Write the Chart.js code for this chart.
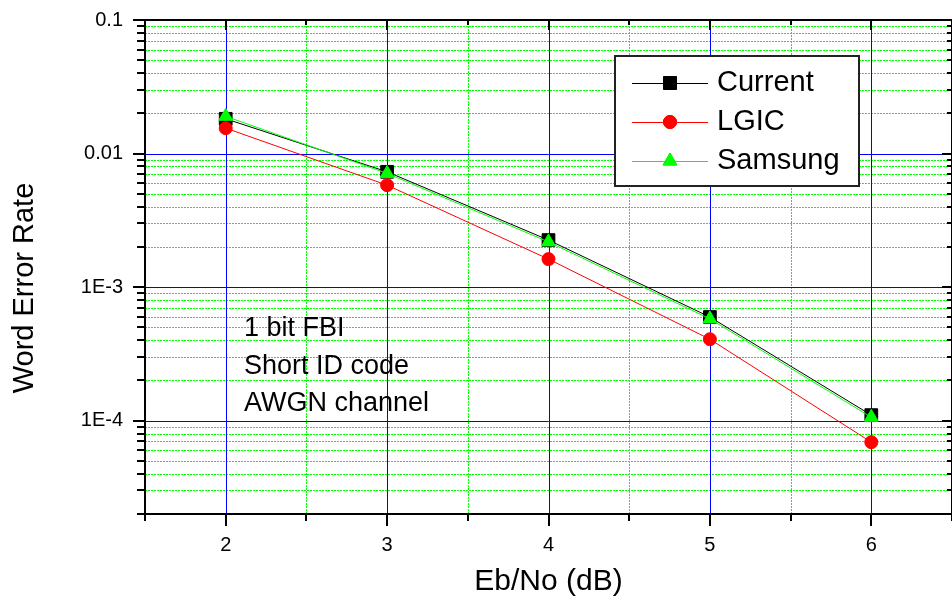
<!DOCTYPE html>
<html>
<head>
<meta charset="utf-8">
<script src="https://cdn.jsdelivr.net/npm/chart.js@4.4.1/dist/chart.umd.min.js"></script>
<style>
  html, body { margin: 0; padding: 0; overflow: hidden; background: #fff; }
  #wrap { width: 952px; height: 606px; overflow: hidden; position: relative; }
  canvas { display: block; }
</style>
</head>
<body>
<div id="wrap"><canvas id="myChart" width="962" height="606"></canvas></div>
<script>
  // Eb/No points (dB)
  const ebNo = [2, 3, 4, 5, 6];

  // word error rate per curve
  const current = [0.0182, 0.0073, 0.00225, 0.000597, 0.000110];
  const lgic = [0.0155, 0.0058, 0.00162, 0.000407, 0.000069];
  const samsung = [0.0190, 0.0071, 0.00218, 0.000578, 0.000106];

  // decade labels on the y axis
  const yTickValues = [0.1, 0.01, 1e-3, 1e-4];
  const yTickLabels = ['0.1', '0.01', '1E-3', '1E-4'];

  const notes = ['1 bit FBI', 'Short ID code', 'AWGN channel'];

  const FONT = "'Liberation Sans', Arial, sans-serif";

  // all minor positions 2e-5 ... 0.1
  const yGrid = [];
  for (let e = -5; e <= -2; e++) {
    for (let m = 1; m <= 9; m++) {
      const v = m * Math.pow(10, e);
      if (v >= 2e-5 - 1e-12) yGrid.push(v);
    }
  }
  yGrid.push(0.1);

  const isDecade = v => yTickValues.some(t => Math.abs(Math.log10(v) - Math.log10(t)) < 1e-9);
  const crisp = v => Math.round(v) + 0.5;

  const pairs = arr => arr.map((v, i) => ({ x: ebNo[i], y: v }));

  const framePlugin = {
    id: 'frame',
    beforeDatasetsDraw(chart) {
      const { ctx, chartArea: a, scales: { x, y } } = chart;
      ctx.save();
      ctx.lineWidth = 1;
      // minor grid, green dotted
      ctx.strokeStyle = '#00ff00';
      ctx.setLineDash([2, 1]);
      ctx.beginPath();
      x.ticks.forEach(t => {
        if (Number.isInteger(t.value) || t.value <= x.min || t.value >= x.max) return;
        const px = crisp(x.getPixelForValue(t.value));
        ctx.moveTo(px, a.top); ctx.lineTo(px, a.bottom);
      });
      y.ticks.forEach(t => {
        if (isDecade(t.value) || t.value <= y.min || t.value >= y.max) return;
        const py = crisp(y.getPixelForValue(t.value));
        ctx.moveTo(a.left, py); ctx.lineTo(a.right, py);
      });
      ctx.stroke();
      // major grid, blue solid
      ctx.setLineDash([]);
      ctx.strokeStyle = '#0000ff';
      ctx.beginPath();
      x.ticks.forEach(t => {
        if (!Number.isInteger(t.value) || t.value <= x.min || t.value >= x.max) return;
        const px = crisp(x.getPixelForValue(t.value));
        ctx.moveTo(px, a.top); ctx.lineTo(px, a.bottom);
      });
      y.ticks.forEach(t => {
        if (!isDecade(t.value) || t.value >= y.max) return;
        const py = crisp(y.getPixelForValue(t.value));
        ctx.moveTo(a.left, py); ctx.lineTo(a.right, py);
      });
      ctx.stroke();
      ctx.restore();
    },
    afterDatasetsDraw(chart) {
      const { ctx, chartArea: a, scales: { x, y } } = chart;
      ctx.save();
      ctx.strokeStyle = '#000';
      ctx.lineWidth = 2;
      ctx.beginPath();
      // frame
      ctx.rect(a.left, a.top, a.right - a.left, a.bottom - a.top);
      // x ticks: outward at bottom, inward at top
      x.ticks.forEach(t => {
        const px = Math.round(x.getPixelForValue(t.value));
        const len = Number.isInteger(t.value) ? 12 : 7;
        ctx.moveTo(px, a.bottom); ctx.lineTo(px, a.bottom + len);
        ctx.moveTo(px, a.top); ctx.lineTo(px, a.top + (Number.isInteger(t.value) ? 10 : 5));
      });
      // y ticks: outward at left, inward at right
      y.ticks.forEach(t => {
        const py = Math.round(y.getPixelForValue(t.value));
        const major = isDecade(t.value);
        ctx.moveTo(a.left, py); ctx.lineTo(a.left - (major ? 12 : 8), py);
        ctx.moveTo(a.right, py); ctx.lineTo(a.right - (major ? 10 : 5), py);
      });
      ctx.stroke();

      // y title
      ctx.fillStyle = '#000';
      ctx.font = '29px ' + FONT;
      ctx.textAlign = 'center';
      ctx.textBaseline = 'middle';
      ctx.save();
      ctx.translate(25, 288);
      ctx.rotate(-Math.PI / 2);
      ctx.fillText('Word Error Rate', 0, 0);
      ctx.restore();

      // notes
      ctx.textAlign = 'left';
      ctx.font = '27px ' + FONT;
      notes.forEach((s, i) => ctx.fillText(s, 244, 329 + i * 37.5));

      // legend
      ctx.fillStyle = '#fff';
      ctx.fillRect(615, 56, 244, 130);
      ctx.strokeStyle = '#222';
      ctx.lineWidth = 2;
      ctx.strokeRect(615, 56, 244, 130);
      ctx.font = '29px ' + FONT;
      chart.data.datasets.forEach((ds, i) => {
        const ly = 83 + i * 39;
        ctx.strokeStyle = ds.borderColor;
        ctx.lineWidth = 1;
        ctx.beginPath();
        ctx.moveTo(632, ly + 0.5); ctx.lineTo(708, ly + 0.5);
        ctx.stroke();
        ctx.fillStyle = ds.backgroundColor;
        Chart.helpers.drawPoint(ctx, {
          pointStyle: ds.pointStyle, radius: ds.pointRadius, borderWidth: 1, rotation: 0
        }, 670, ly);
        ctx.fill();
        ctx.stroke();
        ctx.fillStyle = '#000';
        ctx.fillText(ds.label, 717, ly);
      });
      ctx.restore();
    }
  };

  const ctxEl = document.getElementById('myChart').getContext('2d');

  new Chart(ctxEl, {
    type: 'line',
    data: {
      datasets: [{
        label: 'Current',
        data: pairs(current),
        borderColor: '#000000',
        backgroundColor: '#000000',
        borderWidth: 1,
        pointStyle: 'rect',
        pointRadius: 9,
        pointBorderWidth: 1,
        order: 3
      }, {
        label: 'LGIC',
        data: pairs(lgic),
        borderColor: '#ff0000',
        backgroundColor: '#ff0000',
        borderWidth: 1,
        pointStyle: 'circle',
        pointRadius: 6.5,
        pointBorderWidth: 1,
        order: 2
      }, {
        label: 'Samsung',
        data: pairs(samsung),
        borderColor: '#00ff00',
        backgroundColor: '#00ff00',
        borderWidth: 1,
        pointStyle: 'triangle',
        pointRadius: 8,
        pointBorderWidth: 1,
        order: 1
      }]
    },
    options: {
      responsive: false,
      animation: false,
      layout: { padding: { top: 20, right: 5, left: 0, bottom: 0 } },
      plugins: {
        legend: { display: false },
        tooltip: { enabled: false }
      },
      scales: {
        x: {
          type: 'linear',
          min: 1.5,
          max: 6.5,
          grid: { display: false, drawTicks: false },
          border: { display: false },
          ticks: {
            stepSize: 0.5,
            autoSkip: false,
            maxRotation: 0,
            padding: 19,
            color: '#000',
            font: { family: FONT, size: 20 },
            callback: v => Number.isInteger(v) ? String(v) : ''
          },
          title: {
            display: true,
            text: 'Eb/No (dB)',
            color: '#000',
            font: { family: FONT, size: 30 },
            padding: { top: 0, bottom: 6 }
          },
          afterFit(scale) {
            scale.height = 92;
            scale.paddingLeft = 0;
            scale.paddingRight = 0;
          }
        },
        y: {
          type: 'logarithmic',
          min: 2e-5,
          max: 0.1,
          grid: { display: false, drawTicks: false },
          border: { display: false },
          afterBuildTicks(scale) {
            scale.ticks = yGrid.map(v => ({ value: v }));
          },
          ticks: {
            autoSkip: false,
            padding: 22,
            color: '#000',
            font: { family: FONT, size: 20 },
            callback: v => {
              const i = yTickValues.findIndex(t => Math.abs(Math.log10(v) - Math.log10(t)) < 1e-9);
              return i >= 0 ? yTickLabels[i] : '';
            }
          },
          afterFit(scale) {
            scale.width = 145;
            scale.paddingTop = 0;
            scale.paddingBottom = 0;
          }
        }
      }
    },
    plugins: [framePlugin]
  });
</script>
</body>
</html>
